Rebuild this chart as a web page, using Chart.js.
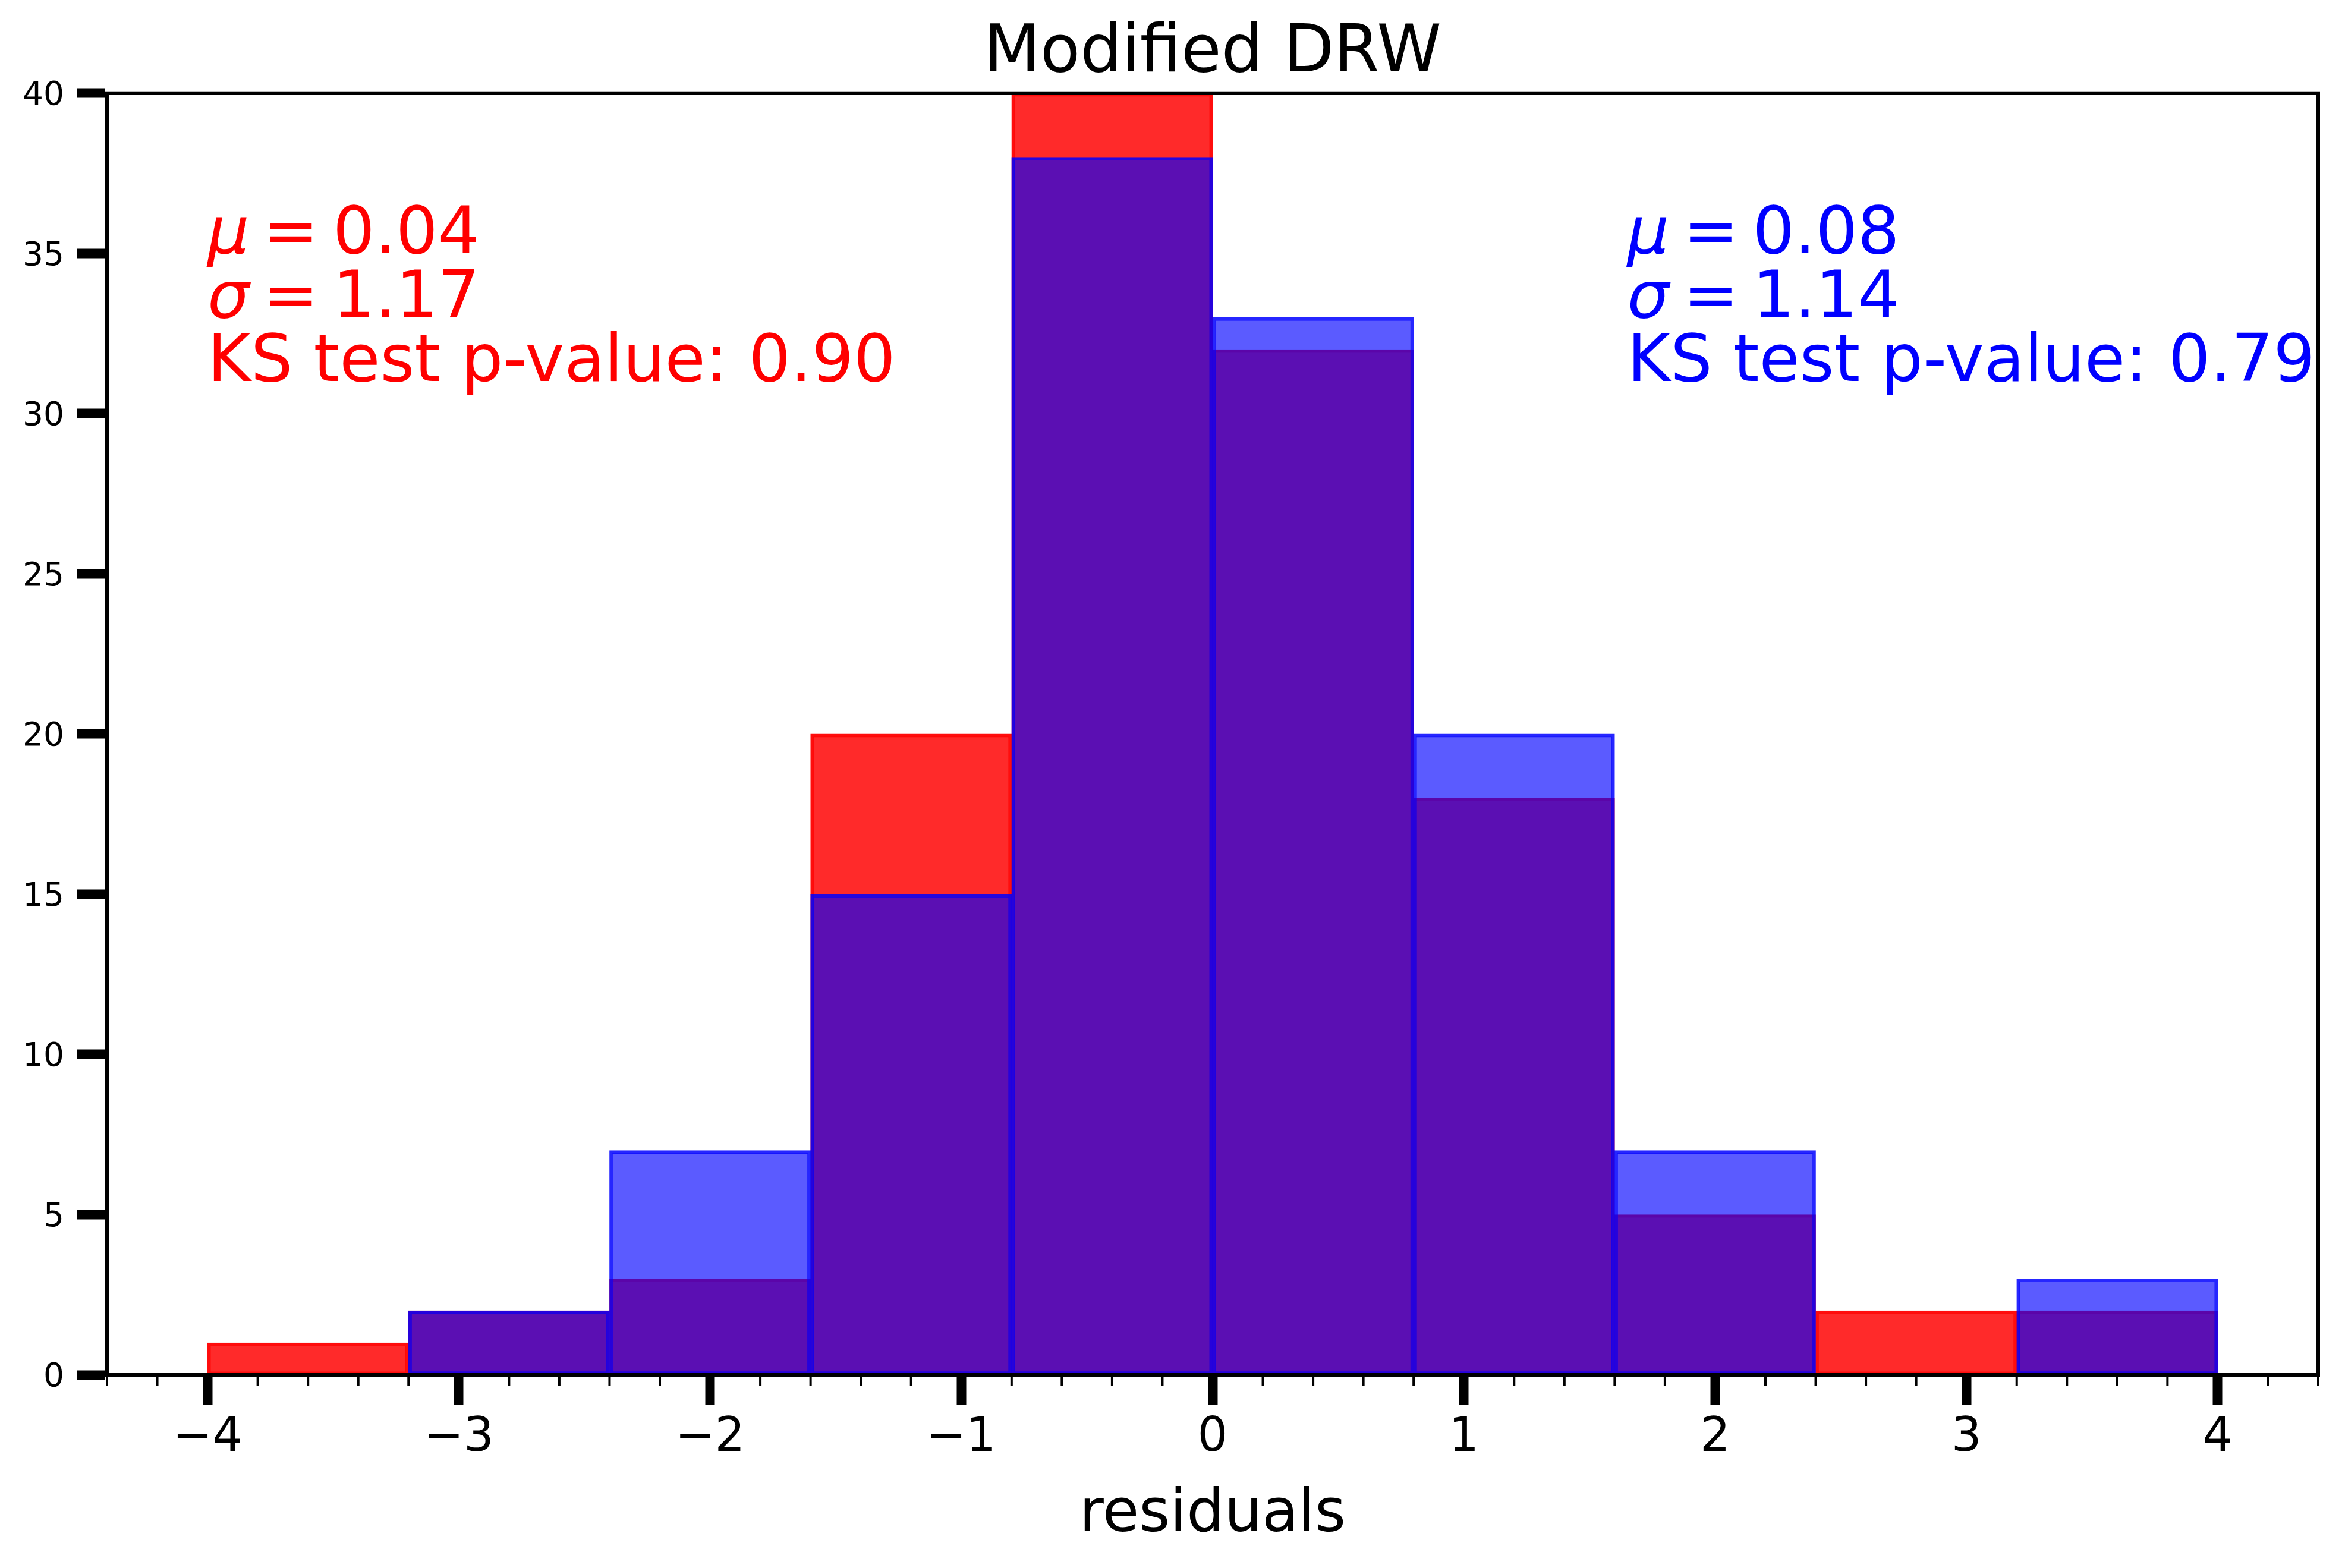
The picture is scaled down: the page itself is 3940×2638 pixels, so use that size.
<!DOCTYPE html>
<html>
<head>
<meta charset="utf-8">
<title>Modified DRW</title>
<script src="https://cdn.jsdelivr.net/npm/chart.js@4.4.1/dist/chart.umd.min.js"></script>
<style>
  html, body { margin: 0; padding: 0; background: #fff; }
  canvas { display: block; }
</style>
</head>
<body>
<canvas id="myChart" width="3940" height="2638" style="width:3940px;height:2638px"></canvas>
<script>
// histogram bins and counts
const binEdges = [-4, -3.2, -2.4, -1.6, -0.8, 0, 0.8, 1.6, 2.4, 3.2, 4];
const redCounts = [1, 2, 3, 20, 40, 32, 18, 5, 2, 2];
const blueCounts = [0, 2, 7, 15, 38, 33, 20, 7, 0, 3];

// axis ticks
const xTicks = [-4, -3, -2, -1, 0, 1, 2, 3, 4];
const yTicks = [0, 5, 10, 15, 20, 25, 30, 35, 40];
const minorStep = 0.2;

// mu, sigma, KS p-value
const redStats = ["0.04", "1.17", "0.90"];
const blueStats = ["0.08", "1.14", "0.79"];

const FONT = "'DejaVu Sans', 'Liberation Sans', sans-serif";
Chart.defaults.font.family = FONT;
Chart.defaults.color = "#000";

function toPoints(counts) {
  return counts.map((c, i) => ({ x: (binEdges[i] + binEdges[i + 1]) / 2, y: c }));
}

function fmtTick(v) {
  return v < 0 ? "\u2212" + Math.abs(v) : String(v);
}

// top/right spines and minor x ticks
const frame = {
  id: "frame",
  afterDraw(chart) {
    const { ctx, chartArea: a, scales: { x } } = chart;
    ctx.save();
    ctx.strokeStyle = "#000";
    ctx.lineWidth = 6;
    ctx.beginPath();
    ctx.moveTo(a.left - 3, a.top);
    ctx.lineTo(a.right, a.top);
    ctx.lineTo(a.right, a.bottom + 3);
    ctx.stroke();

    ctx.lineWidth = 4;
    ctx.beginPath();
    const n = Math.round((x.max - x.min) / minorStep);
    for (let k = 0; k <= n; k++) {
      const v = x.min + k * minorStep;
      if (Math.abs(v - Math.round(v)) < 1e-6) continue;
      const px = x.getPixelForValue(v);
      ctx.moveTo(px, a.bottom);
      ctx.lineTo(px, a.bottom + 18);
    }
    ctx.stroke();
    ctx.restore();
  }
};

function drawStats(ctx, x0, y0, stats, color) {
  const lineGap = 107.5;
  const symbols = ["\u03bc", "\u03c3"];
  ctx.save();
  ctx.fillStyle = color;
  ctx.textBaseline = "alphabetic";
  ctx.textAlign = "left";
  symbols.forEach((s, i) => {
    const yy = y0 + i * lineGap;
    ctx.font = "italic 111px " + FONT;
    ctx.fillText(s, x0, yy);
    ctx.font = "111px " + FONT;
    ctx.fillText("=", x0 + 94, yy);
    ctx.fillText(stats[i], x0 + 211, yy);
  });
  ctx.font = "111px " + FONT;
  ctx.fillText("KS test p-value: " + stats[2], x0, y0 + 2 * lineGap);
  ctx.restore();
}

const statsText = {
  id: "statsText",
  afterDraw(chart) {
    const { ctx, scales: { x, y } } = chart;
    drawStats(ctx, x.getPixelForValue(-4), y.getPixelForValue(35), redStats, "#ff0000");
    drawStats(ctx, x.getPixelForValue(1.65), y.getPixelForValue(35), blueStats, "#0000ff");
  }
};

const element = document.getElementById("myChart");
new Chart(element, {
  type: "bar",
  data: {
    datasets: [
      {
        label: "red",
        data: toPoints(redCounts),
        backgroundColor: "rgba(255,0,0,0.835)",
        borderColor: "rgba(255,0,0,0.95)",
        borderWidth: 5,
        borderSkipped: false,
        grouped: false,
        barPercentage: 1,
        categoryPercentage: 1,
        order: 2,
      },
      {
        label: "blue",
        data: toPoints(blueCounts),
        backgroundColor: "rgba(0,0,255,0.643)",
        borderColor: "rgba(0,0,255,0.85)",
        borderWidth: 5,
        borderSkipped: false,
        grouped: false,
        barPercentage: 1,
        categoryPercentage: 1,
        order: 1,
      },
    ],
  },
  options: {
    responsive: false,
    devicePixelRatio: 1,
    animation: false,
    layout: { padding: { left: 0, right: 40, top: 0, bottom: 0 } },
    plugins: {
      legend: { display: false },
      tooltip: { enabled: false },
      title: {
        display: true,
        text: "Modified DRW",
        fullSize: false,
        color: "#000",
        font: { size: 110, weight: "normal", lineHeight: 1.18 },
        padding: { top: 27, bottom: 0 },
      },
    },
    scales: {
      x: {
        type: "linear",
        min: -4.4,
        max: 4.4,
        offset: false,
        afterBuildTicks: (s) => { s.ticks = xTicks.map((v) => ({ value: v })); },
        afterFit: (s) => { s.height = 325; },
        grid: { offset: false, drawOnChartArea: false, tickLength: 50, tickWidth: 16, tickColor: "#000" },
        border: { display: true, width: 6, color: "#000", z: 1 },
        ticks: { color: "#000", font: { size: 80 }, padding: 9, maxRotation: 0, autoSkip: false, callback: fmtTick },
        title: { display: true, text: "residuals", color: "#000", font: { size: 100 }, padding: { top: 0, bottom: 28 } },
      },
      y: {
        type: "linear",
        min: 0,
        max: 40,
        afterBuildTicks: (s) => { s.ticks = yTicks.map((v) => ({ value: v })); },
        afterFit: (s) => { s.width = 180; },
        grid: { drawOnChartArea: false, tickLength: 50, tickWidth: 16, tickColor: "#000" },
        border: { display: true, width: 6, color: "#000", z: 1 },
        ticks: { color: "#000", font: { size: 55 }, padding: 22, labelOffset: 5, autoSkip: false, callback: fmtTick },
      },
    },
  },
  plugins: [frame, statsText],
});
</script>
</body>
</html>
